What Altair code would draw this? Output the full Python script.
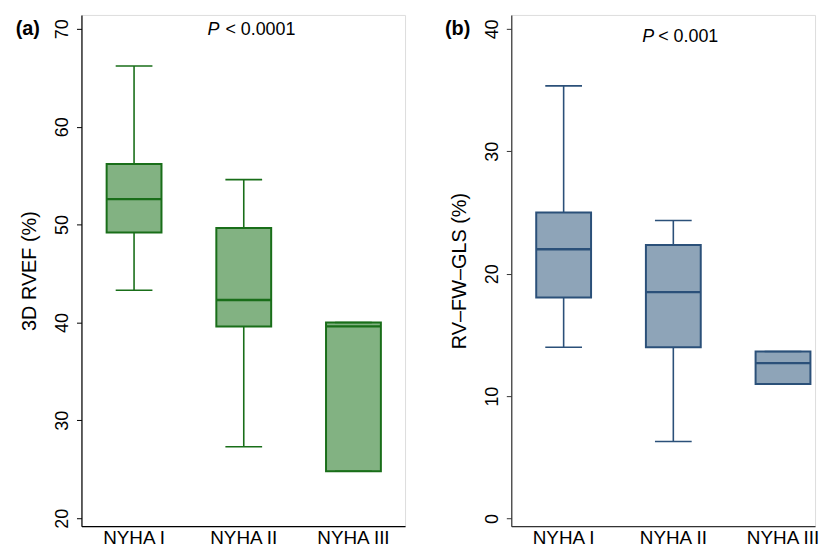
import altair as alt
import pandas as pd

groups = ["NYHA I", "NYHA II", "NYHA III"]

# Panel (a): 3D RVEF (%)
rvef_low = [43.3, 27.3, 24.8]
rvef_q1 = [49.2, 39.6, 24.8]
rvef_med = [52.6, 42.3, 39.6]
rvef_q3 = [56.2, 49.65, 40.0]
rvef_high = [66.2, 54.6, 40.0]
rvef_ticks = [20, 30, 40, 50, 60, 70]

# Panel (b): RV-FW-GLS (%)
gls_low = [14.0, 6.3, 11.0]
gls_q1 = [18.05, 14.0, 11.0]
gls_med = [22.0, 18.5, 12.7]
gls_q3 = [25.0, 22.35, 13.65]
gls_high = [35.35, 24.35, 13.65]
gls_ticks = [0, 10, 20, 30, 40]

panel_letters = ["(a)", "(b)"]
p_values = ["< 0.0001", "< 0.001"]
y_titles = ["3D RVEF (%)", "RV\u2013FW\u2013GLS (%)"]

FONT = "Liberation Sans"


def panel(low, q1, med, q3, high, ticks, ydomain, ytitle, letter, ptext,
          fill, stroke, axis_color, width, pad_outer, align, p_pos):
    df = pd.DataFrame({"group": groups, "low": low, "q1": q1, "med": med,
                       "q3": q3, "high": high})
    x = alt.X("group:N", sort=groups,
              scale=alt.Scale(domain=groups, paddingInner=0.5,
                              paddingOuter=pad_outer, align=align),
              axis=alt.Axis(title=None, ticks=False, labelAngle=0,
                            labelFontSize=19, labelColor="black",
                            labelPadding=2, domainColor=axis_color,
                            domainWidth=1.2, labelFont=FONT))
    yscale = alt.Scale(domain=ydomain, nice=False, zero=False)
    y_axis = alt.Axis(values=ticks, grid=False, labelAngle=-90,
                      labelAlign="center", labelBaseline="bottom",
                      tickSize=5, labelPadding=5, titlePadding=14,
                      title=ytitle, titleFontSize=20, titleFontWeight="normal",
                      titleColor="black", labelColor="black", labelFontSize=18,
                      domainColor=axis_color, tickColor=axis_color,
                      domainWidth=1.2, labelFont=FONT, titleFont=FONT)
    base = alt.Chart(df)
    whisk_hi = base.mark_rule(color=stroke, strokeWidth=1.6).encode(
        x=x, y=alt.Y("q3:Q", scale=yscale, axis=y_axis), y2="high:Q")
    whisk_lo = base.mark_rule(color=stroke, strokeWidth=1.6).encode(
        x=x, y=alt.Y("low:Q", scale=yscale), y2="q1:Q")
    box = base.mark_bar(fill=fill, stroke=stroke, strokeWidth=2,
                        opacity=1).encode(
        x=x, y=alt.Y("q1:Q", scale=yscale), y2="q3:Q")
    median = base.mark_tick(color=stroke, size=55, thickness=2.4,
                            opacity=1).encode(
        x=x, y=alt.Y("med:Q", scale=yscale))
    cap_hi = base.mark_tick(color=stroke, size=37, thickness=1.6,
                            opacity=1).encode(
        x=x, y=alt.Y("high:Q", scale=yscale))
    cap_lo = base.mark_tick(color=stroke, size=37, thickness=1.6,
                            opacity=1).encode(
        x=x, y=alt.Y("low:Q", scale=yscale))

    letter_txt = alt.Chart(pd.DataFrame({"t": [letter]})).mark_text(
        font=FONT, fontSize=20, fontWeight="bold", align="center",
        baseline="middle", color="black").encode(
        text="t:N", x=alt.value(-54), y=alt.value(14))
    p_txt = alt.Chart(pd.DataFrame({"t": ["P"]})).mark_text(
        font=FONT, fontSize=18, fontStyle="italic", align="right",
        baseline="alphabetic", color="black").encode(
        text="t:N", x=alt.value(p_pos[0]), y=alt.value(p_pos[2]))
    p_rest = alt.Chart(pd.DataFrame({"t": [ptext]})).mark_text(
        font=FONT, fontSize=18, align="left",
        baseline="alphabetic", color="black").encode(
        text="t:N", x=alt.value(p_pos[1]), y=alt.value(p_pos[2]))

    return alt.layer(whisk_hi, whisk_lo, box, median, cap_hi, cap_lo,
                     letter_txt, p_txt, p_rest).properties(width=width,
                                                           height=515)


pa = panel(rvef_low, rvef_q1, rvef_med, rvef_q3, rvef_high, rvef_ticks,
           [19.19, 71.42], y_titles[0], panel_letters[0], p_values[0],
           "#82b282", "#196e19", "black", 326, 0.225, 0.51, (139, 145, 20))
pb = panel(gls_low, gls_q1, gls_med, gls_q3, gls_high, gls_ticks,
           [-0.62, 41.14], y_titles[1], panel_letters[1], p_values[1],
           "#8ea4b8", "#2b5079", "#333333", 306, 0.1347, 0.844, (144, 148, 27))

chart = alt.hconcat(pa, pb, spacing=38).properties(
    padding={"left": 7, "top": 4, "right": 0, "bottom": 0}
).configure_view(stroke=None).configure(font=FONT)

chart.save("out.html", embed_options={"renderer": "svg", "actions": False})
